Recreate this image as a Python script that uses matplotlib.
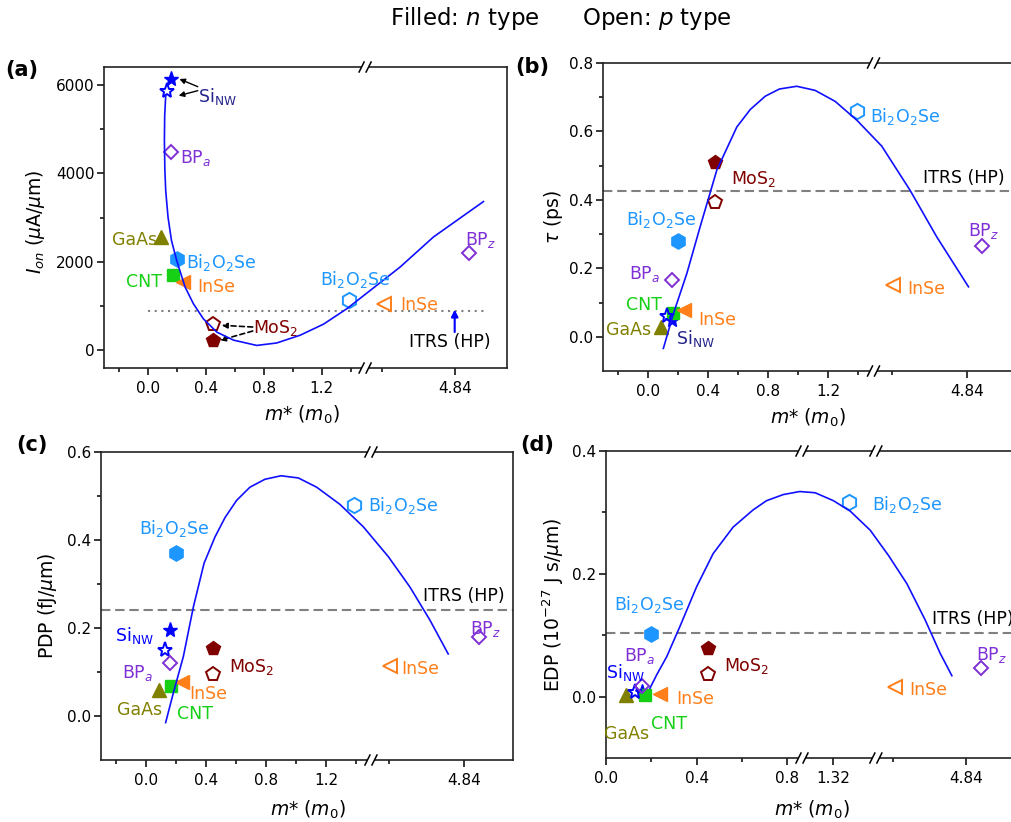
import numpy as np
import matplotlib
matplotlib.use('Agg')
import matplotlib.pyplot as plt
from matplotlib.patches import Rectangle

plt.rcParams['font.family'] = ['DejaVu Sans']
plt.rcParams['mathtext.fontset'] = 'dejavusans'

# effective masses (m0) of each device material
n_names = ['SiNW', 'GaAs', 'Bi2O2Se', 'CNT', 'InSe', 'MoS2']
n_mass = [0.16, 0.09, 0.20, 0.17, 0.24, 0.45]
p_names = ['SiNW', 'BPa', 'Bi2O2Se', 'InSe', 'MoS2', 'BPz']
p_mass = [0.13, 0.16, 1.39, 4.35, 0.45, 4.94]

# (a) on-current, uA/um
ion_n = [6130, 2570, 2060, 1690, 1540, 230]
ion_p = [5850, 4490, 1140, 1050, 600, 2200]
# (b) intrinsic delay, ps
tau_n = [0.05, 0.03, 0.28, 0.07, 0.077, 0.51]
tau_p = [0.06, 0.165, 0.66, 0.15, 0.395, 0.265]
# (c) power-delay product, fJ/um
pdp_n = [0.195, 0.06, 0.37, 0.068, 0.077, 0.155]
pdp_p = [0.15, 0.12, 0.48, 0.113, 0.095, 0.18]
# (d) energy-delay product, 1e-27 J s/um
edp_n = [0.008, 0.003, 0.102, 0.003, 0.004, 0.079]
edp_p = [0.007, 0.017, 0.317, 0.016, 0.037, 0.046]

# ITRS (HP) targets
itrs = [890, 0.426, 0.24, 0.103]

# model curves vs m*
curve_a_x = [0.12, 0.113, 0.111, 0.114, 0.12, 0.136, 0.16, 0.196, 0.254, 0.312, 0.381, 0.474,
             0.589, 0.75, 0.888, 1.05, 1.212, 1.374, 4.243, 4.462, 4.693, 5.039]
curve_a_y = [5750, 5300, 4740, 4100, 3610, 3010, 2480, 2030, 1430, 1050, 710, 410,
             230, 110, 165, 340, 590, 940, 1320, 1880, 2560, 3360]
curve_b_x = [0.104, 0.171, 0.26, 0.348, 0.459, 0.592, 0.681, 0.781, 0.875, 0.99, 1.112,
             1.245, 1.389, 4.275, 4.463, 4.64, 4.851]
curve_b_y = [-0.034, 0.068, 0.185, 0.321, 0.487, 0.613, 0.664, 0.703, 0.724, 0.732, 0.72,
             0.688, 0.633, 0.557, 0.428, 0.292, 0.146]
curve_c_x = [0.131, 0.182, 0.249, 0.316, 0.387, 0.46, 0.527, 0.604, 0.693, 0.793, 0.9, 1.016,
             1.138, 1.293, 1.449, 4.336, 4.48, 4.613, 4.735]
curve_c_y = [-0.015, 0.052, 0.135, 0.248, 0.347, 0.407, 0.451, 0.49, 0.52, 0.538, 0.546, 0.541,
             0.52, 0.481, 0.43, 0.362, 0.293, 0.218, 0.141]
curve_d_x = [0.194, 0.223, 0.268, 0.326, 0.40, 0.473, 0.561, 0.649, 0.708, 0.782, 0.855, 1.24,
             1.321, 1.395, 1.483, 4.306, 4.432, 4.557, 4.66, 4.74]
curve_d_y = [0.0136, 0.035, 0.065, 0.114, 0.179, 0.233, 0.276, 0.304, 0.319, 0.329, 0.334, 0.332,
             0.319, 0.302, 0.271, 0.23, 0.184, 0.125, 0.0705, 0.034]

x_major = [0, 0.4, 0.8, 1.2, 4.84]
x_major_lbl = ['0.0', '0.4', '0.8', '1.2', '4.84']
x_minor = [-0.2, 0.2, 0.6, 1.0, 1.4, 4.34]
x_major_d = [0, 0.4, 0.8, 1.32, 4.84]
x_major_lbl_d = ['0.0', '0.4', '0.8', '1.32', '4.84']
x_minor_d = [0.2, 0.6, 4.34]

BLUE = '#0000ff'
NAVY = '#23238c'
PURPLE = '#7f2fd6'
OLIVE = '#808000'
LBLUE = '#1e96ff'
GREEN = '#16d016'
ORANGE = '#ff7f1a'
MAROON = '#800000'

style = {
    'SiNW': ('*', BLUE, 11),
    'GaAs': ('^', OLIVE, 10),
    'Bi2O2Se': ('h', LBLUE, 11),
    'CNT': ('s', GREEN, 9),
    'InSe': ('<', ORANGE, 10),
    'MoS2': ('p', MAROON, 10.5),
    'BPa': ('D', PURPLE, 7),
    'BPz': ('D', PURPLE, 7),
}

BI = r'Bi$_2$O$_2$Se'
SI = r'Si$_{\rm NW}$'
labels_a = [(SI, 0.344, 5800, NAVY, 'left'), (r'BP$_a$', 0.22, 4400, PURPLE, 'left'),
            ('GaAs', 0.06, 2533, OLIVE, 'right'), (BI, 0.259, 2030, LBLUE, 'left'),
            ('CNT', 0.093, 1594, GREEN, 'right'), ('InSe', 0.339, 1466, ORANGE, 'left'),
            (BI, 1.43, 1654, LBLUE, 'center'), ('InSe', 4.461, 1068, ORANGE, 'left'),
            (r'BP$_z$', 4.912, 2556, PURPLE, 'left'), (r'MoS$_2$', 0.727, 564, MAROON, 'left'),
            ('ITRS (HP)', 4.808, 226, 'k', 'center')]
labels_b = [(BI, 1.477, 0.652, LBLUE, 'left'), (r'MoS$_2$', 0.551, 0.467, MAROON, 'left'),
            ('ITRS (HP)', 5.094, 0.469, 'k', 'right'), (BI, 0.088, 0.350, LBLUE, 'center'),
            (r'BP$_z$', 4.846, 0.3165, PURPLE, 'left'), (r'BP$_a$', 0.086, 0.192, PURPLE, 'right'),
            ('InSe', 4.445, 0.146, ORANGE, 'left'), ('CNT', -0.023, 0.100, GREEN, 'center'),
            ('InSe', 0.336, 0.0555, ORANGE, 'left'), ('GaAs', 0.02, 0.026, OLIVE, 'right'),
            (SI, 0.186, 0.002, NAVY, 'left')]
labels_c = [(BI, 0.187, 0.431, LBLUE, 'center'), (BI, 1.478, 0.484, LBLUE, 'left'),
            ('ITRS (HP)', 5.113, 0.277, 'k', 'right'), (SI, 0.053, 0.189, BLUE, 'right'),
            (r'BP$_a$', 0.045, 0.104, PURPLE, 'right'), (r'MoS$_2$', 0.555, 0.117, MAROON, 'left'),
            ('InSe', 0.287, 0.055, ORANGE, 'left'), ('GaAs', 0.105, 0.0175, OLIVE, 'right'),
            ('CNT', 0.204, 0.01, GREEN, 'left'), ('InSe', 4.424, 0.112, ORANGE, 'left'),
            (r'BP$_z$', 4.88, 0.204, PURPLE, 'left')]
labels_d = [(BI, 1.49, 0.317, LBLUE, 'left'), (BI, 0.188, 0.1545, LBLUE, 'center'),
            ('ITRS (HP)', 4.603, 0.130, 'k', 'left'), (r'BP$_a$', 0.2175, 0.0694, PURPLE, 'right'),
            (SI, 0.0, 0.0434, BLUE, 'left'), (r'MoS$_2$', 0.519, 0.054, MAROON, 'left'),
            ('InSe', 0.310, 0.0, ORANGE, 'left'), ('CNT', 0.2, -0.0406, GREEN, 'left'),
            ('GaAs', -0.0075, -0.058, OLIVE, 'left'), ('InSe', 4.449, 0.0136, ORANGE, 'left'),
            (r'BP$_z$', 4.904, 0.0716, PURPLE, 'left')]


def broken_scale(data_knots, disp_knots):
    dk = np.array(data_knots, float)
    pk = np.array(disp_knots, float)

    def fwd(x):
        return np.interp(np.asarray(x, float), dk, pk)

    def inv(d):
        return np.interp(np.asarray(d, float), pk, dk)
    return fwd, inv


eps = 1e-9
scale_abc = broken_scale([-10, 1.5, 4.22, 20], [-10, 1.5, 1.5 + eps, 1.5 + eps + 15.78])
scale_d = broken_scale([-10, 0.865, 1.182, 1.508, 4.22, 20],
                       [-10, 0.865, 0.865 + eps, 1.191, 1.191 + eps, 1.191 + eps + 15.78 * 0.645])

W_PX, H_PX = 1011, 822
fig = plt.figure(figsize=(W_PX / 100, H_PX / 100), dpi=100)


def add_ax(l, t, r, b):
    return fig.add_axes([l / W_PX, 1 - b / H_PX, (r - l) / W_PX, (b - t) / H_PX])


def draw_breaks(ax, fwd, breaks):
    x0, x1 = ax.get_xlim()
    d0, d1 = fwd(x0), fwd(x1)
    bb = ax.get_position()
    w, h = bb.width * W_PX, bb.height * H_PX
    for xb in breaks:
        fx = (fwd(xb) - d0) / (d1 - d0)
        for fy in (0, 1):
            ax.add_patch(Rectangle((fx - 3.5 / w, fy - 2.5 / h), 7 / w, 5 / h, transform=ax.transAxes,
                                   facecolor='white', edgecolor='none', clip_on=False, zorder=5))
            for s in (-1, 1):
                cx = fx + s * 3.5 / w
                ax.plot([cx - 2.5 / w, cx + 2.5 / w], [fy - 5 / h, fy + 5 / h], transform=ax.transAxes,
                        color='k', lw=1.1, clip_on=False, zorder=6)


def panel(ax, scale, xlim, ylim, yt, ytl, ymin, n_y, p_y, cx, cy, labels, itrs_y, dotted=False):
    ax.set_xscale('function', functions=scale)
    ax.set_xlim(*xlim)
    ax.set_ylim(*ylim)
    ax.set_yticks(yt)
    ax.set_yticklabels(ytl)
    ax.set_yticks(ymin, minor=True)
    for sp in ax.spines.values():
        sp.set_linewidth(1.2)
        sp.set_color('#222222')
    ax.tick_params(which='both', direction='out', width=1.1, labelsize=11)
    ax.tick_params(which='major', length=5)
    ax.tick_params(which='minor', length=3)
    ax.tick_params(axis='x', pad=4)
    ax.tick_params(axis='y', pad=2)

    if dotted:
        ax.plot([0, 5.06], [itrs_y, itrs_y], color='#808080', lw=1.5, dashes=(1, 2.2), zorder=1)
    else:
        ax.axhline(itrs_y, color='#808080', lw=1.5, dashes=(4.5, 2.3), zorder=1)

    for name, x, y in zip(n_names, n_mass, n_y):
        m, c, ms = style[name]
        ax.plot(x, y, ls='none', marker=m, ms=ms, color=c, mec=c, mew=1, zorder=3)
    for name, x, y in zip(p_names, p_mass, p_y):
        m, c, ms = style[name]
        ax.plot(x, y, ls='none', marker=m, ms=ms, mfc='none', mec=c, mew=1.4, zorder=3)

    ax.plot(cx, cy, color='#1010ff', lw=1.2, zorder=4)

    for txt, x, y, c, ha in labels:
        ax.text(x, y, txt, color=c, ha=ha, va='center_baseline', fontsize=12.5, zorder=7)


ax_a = add_ax(104, 67, 507, 368)
ax_b = add_ax(603, 63, 1015, 371)
ax_c = add_ax(101, 452, 513, 760)
ax_d = add_ax(606, 451, 1015, 758)

panel(ax_a, scale_abc, (-0.307, 5.202), (-400, 6400), [0, 2000, 4000, 6000],
      ['0', '2000', '4000', '6000'], [1000, 3000, 5000], ion_n, ion_p,
      curve_a_x, curve_a_y, labels_a, itrs[0], dotted=True)
panel(ax_b, scale_abc, (-0.297, 5.16), (-0.1, 0.8), [0, 0.2, 0.4, 0.6, 0.8],
      ['0.0', '0.2', '0.4', '0.6', '0.8'], [0.1, 0.3, 0.5, 0.7], tau_n, tau_p,
      curve_b_x, curve_b_y, labels_b, itrs[1])
panel(ax_c, scale_abc, (-0.3, 5.167), (-0.1, 0.6), [0, 0.2, 0.4, 0.6],
      ['0.0', '0.2', '0.4', '0.6'], [0.1, 0.3, 0.5], pdp_n, pdp_p,
      curve_c_x, curve_c_y, labels_c, itrs[2])
panel(ax_d, scale_d, (0, 5.172), (-0.1, 0.4), [0, 0.2, 0.4],
      ['0.0', '0.2', '0.4'], [0.1, 0.3], edp_n, edp_p,
      curve_d_x, curve_d_y, labels_d, itrs[3])

for ax in (ax_a, ax_b, ax_c):
    ax.set_xticks(x_major, x_major_lbl)
    ax.set_xticks(x_minor, minor=True)
    draw_breaks(ax, scale_abc[0], [1.5])
ax_d.set_xticks(x_major_d, x_major_lbl_d)
ax_d.set_xticks(x_minor_d, minor=True)
draw_breaks(ax_d, scale_d[0], [0.865, 1.508])

# arrows in (a)
arrow_k = dict(arrowstyle='-|>', color='k', lw=1.0, mutation_scale=8, shrinkA=0, shrinkB=0)
ax_a.annotate('', xy=(0.215, 6129), xytext=(0.342, 5955), arrowprops=arrow_k)
ax_a.annotate('', xy=(0.21, 5752), xytext=(0.342, 5865), arrowprops=arrow_k)
arrow_dash = dict(arrow_k, linestyle=(0, (3, 2)), lw=1.2)
ax_a.annotate('', xy=(0.508, 564), xytext=(0.722, 526), arrowprops=arrow_dash)
ax_a.annotate('', xy=(0.496, 226), xytext=(0.722, 435), arrowprops=arrow_dash)
ax_a.annotate('', xy=(4.84, 918), xytext=(4.84, 413),
              arrowprops=dict(arrowstyle='-|>', color=BLUE, lw=1.5, mutation_scale=10,
                              shrinkA=0, shrinkB=0))

xlab = r'$m$* ($m_0$)'
ax_a.set_xlabel(xlab, fontsize=13.5)
ax_b.set_xlabel(xlab, fontsize=13.5)
ax_c.set_xlabel(xlab, fontsize=13.5)
ax_d.set_xlabel(xlab, fontsize=13.5)
ax_a.set_ylabel(r'$I_{on}$ ($\mu$A/$\mu$m)', fontsize=13.5)
ax_b.set_ylabel(r'$\tau$ (ps)', fontsize=13.5)
ax_c.set_ylabel(r'PDP (fJ/$\mu$m)', fontsize=13.5)
ax_d.set_ylabel(r'EDP (10$^{-27}$ J s/$\mu$m)', fontsize=13.5)

ax_a.xaxis.set_label_coords(0.49, -0.156)
ax_b.xaxis.set_label_coords(0.497, -0.153)
ax_c.xaxis.set_label_coords(0.502, -0.162)
ax_d.xaxis.set_label_coords(0.504, -0.169)
ax_a.yaxis.set_label_coords(-0.171, 0.485)
ax_b.yaxis.set_label_coords(-0.121, 0.5)
ax_c.yaxis.set_label_coords(-0.131, 0.5)
ax_d.yaxis.set_label_coords(-0.129, 0.5)
for ax in (ax_a, ax_b, ax_c, ax_d):
    ax.xaxis.label.set_va('center')
    ax.yaxis.label.set_va('center')

for lbl, px, py in [('(a)', 22, 70), ('(b)', 532, 67), ('(c)', 32, 445), ('(d)', 537, 445)]:
    fig.text(px / W_PX, 1 - py / H_PX, lbl, fontsize=15, fontweight='bold', ha='center', va='center')

fig.text(390 / W_PX, 1 - 19 / H_PX, r'Filled: $n$ type', fontsize=16.5, ha='left', va='center')
fig.text(582 / W_PX, 1 - 19 / H_PX, r'Open: $p$ type', fontsize=16.5, ha='left', va='center')

fig.savefig('out.png', dpi=100, facecolor='white')
